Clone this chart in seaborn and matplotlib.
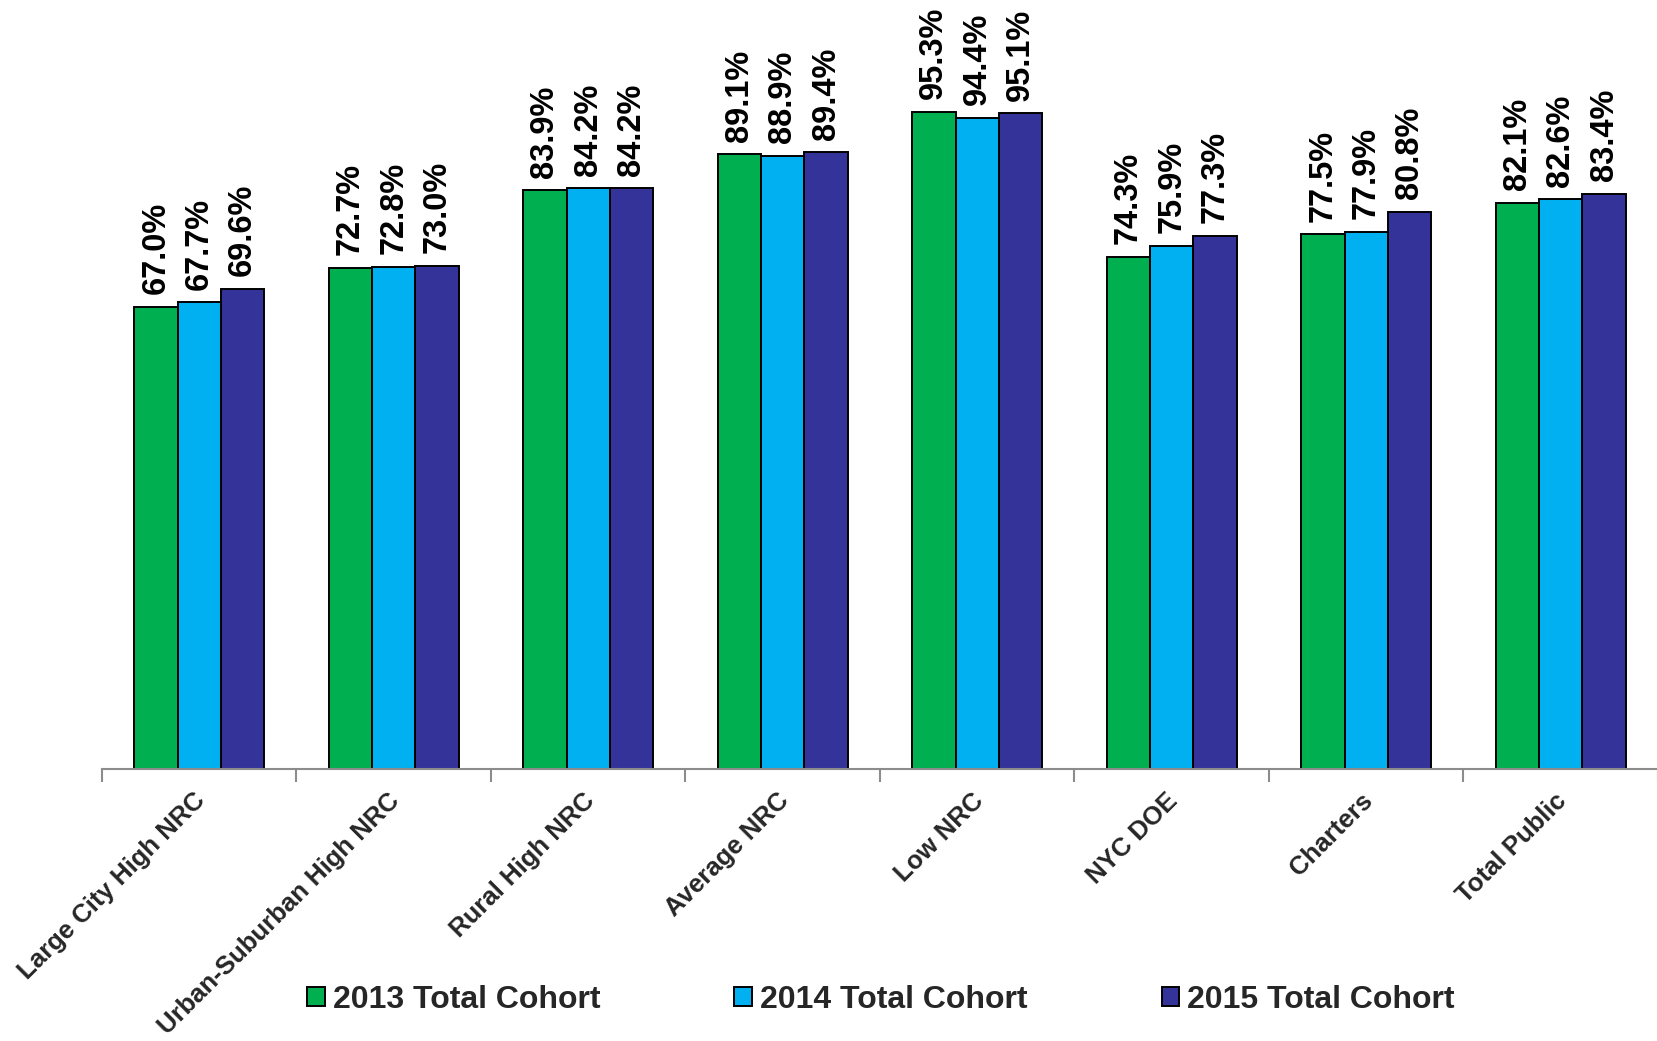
import matplotlib
matplotlib.use("Agg")
import matplotlib.pyplot as plt
import matplotlib.transforms as mtransforms
import seaborn as sns
import pandas as pd
import numpy as np
from matplotlib.ticker import FixedLocator

categories = ["Large City High NRC", "Urban-Suburban High NRC", "Rural High NRC",
              "Average NRC", "Low NRC", "NYC DOE", "Charters", "Total Public"]
series = ["2013 Total Cohort", "2014 Total Cohort", "2015 Total Cohort"]
rate_2013 = [67.0, 72.7, 83.9, 89.1, 95.3, 74.3, 77.5, 82.1]
rate_2014 = [67.7, 72.8, 84.2, 88.9, 94.4, 75.9, 77.9, 82.6]
rate_2015 = [69.6, 73.0, 84.2, 89.4, 95.1, 77.3, 80.8, 83.4]
colors = ["#00B050", "#00B0F0", "#333399"]

df = pd.DataFrame({
    "category": categories * 3,
    "cohort": [series[0]] * 8 + [series[1]] * 8 + [series[2]] * 8,
    "rate": rate_2013 + rate_2014 + rate_2015,
})

sns.set_style("white")
plt.rcParams["font.family"] = ["Liberation Sans", "DejaVu Sans"]
plt.rcParams["font.weight"] = "bold"

fig = plt.figure(figsize=(16.58, 10.41), dpi=100)
ax = fig.add_axes([102 / 1658, 1 - 769 / 1041, 1 - 102 / 1658, 769 / 1041])

sns.barplot(data=df, x="category", y="rate", hue="cohort", order=categories,
            hue_order=series, palette=colors, width=0.67, edgecolor="black",
            linewidth=1.4, saturation=1, ax=ax)

for cont in ax.containers:
    ax.bar_label(cont, fmt="%.1f%%", rotation=90, padding=9, fontsize=23.5,
                 fontweight="bold", color="black")

ax.set_xlim(-0.5, 7.5)
ax.set_ylim(0, 111.5)
ax.set_xlabel("")
ax.set_ylabel("")
ax.set_yticks([])
for side in ["top", "right", "left"]:
    ax.spines[side].set_visible(False)
ax.spines["bottom"].set_color("#8c8c8c")
ax.spines["bottom"].set_linewidth(1.5)

ax.xaxis.set_minor_locator(FixedLocator(np.arange(-0.5, 8.0, 1.0)))
ax.tick_params(axis="x", which="minor", length=9, width=1.5, color="#8c8c8c",
               direction="out", bottom=True)
ax.tick_params(axis="x", which="major", length=0, pad=14)
ax.set_xticks(range(len(categories)))
ax.set_xticklabels(categories, rotation=45, ha="right", rotation_mode="anchor",
                   fontsize=18.5, fontweight="bold")
shift = mtransforms.ScaledTranslation(-6 / 100, 0, fig.dpi_scale_trans)
for lbl in ax.get_xticklabels():
    lbl.set_transform(lbl.get_transform() + shift)

handles, labels = ax.get_legend_handles_labels()
ax.legend_.remove()
fig.legend(handles, labels, loc="center", bbox_to_anchor=(881 / 1658, 1 - 1000 / 1041),
           ncol=3, frameon=False, handlelength=0.55, handleheight=0.55,
           handletextpad=0.25, columnspacing=4.2, prop={"weight": "bold", "size": 23})

fig.savefig("out.png", dpi=100, facecolor="white")
